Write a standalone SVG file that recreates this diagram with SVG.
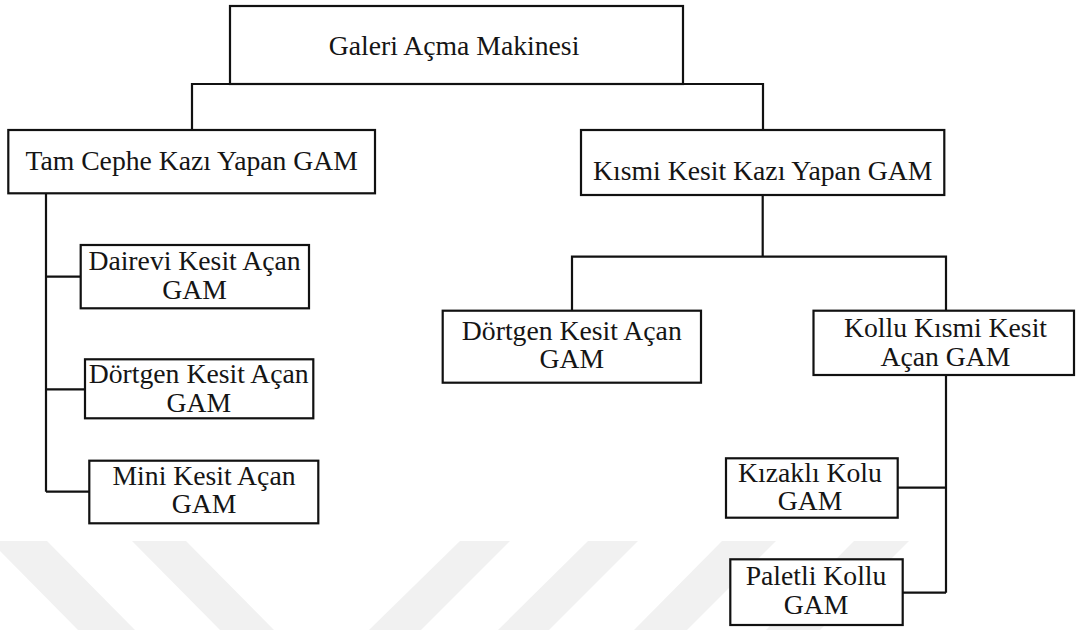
<svg xmlns="http://www.w3.org/2000/svg" width="1076" height="630" viewBox="0 0 1076 630">
<defs>
<style>
.box{fill:#fff;stroke:#111;stroke-width:2.2}
.lbl{font-size:27.7px;fill:#151515;text-anchor:middle}
.con{fill:none;stroke:#111;stroke-width:2.2}
.wm{fill:#f1f1f1}
</style>
</defs>
<rect width="1076" height="630" fill="#fff"/>
<g id="watermark">
<polygon class="wm" points="-10,541 47,541 135,630 78,630"/>
<polygon class="wm" points="132,541 186,541 274,630 220,630"/>
<polygon class="wm" points="460,541 510,541 421,630 369,630"/>
<polygon class="wm" points="588,541 638,541 549,630 498,630"/>
<polygon class="wm" points="722,541 776,541 687,630 634,630"/>
<polygon class="wm" points="854,541 909,541 820,630 766,630"/>
</g>
<g id="connectors">
<path class="con" d="M192,130 V84 H763 V130"/>
<path class="con" d="M46,193 V491.7 M46,276.7 H80.7 M46,389.3 H85 M46,491.7 H89.3"/>
<path class="con" d="M762.7,195 V256.7 M572,310.7 V256.7 H946 V310.7"/>
<path class="con" d="M946,375 V592.7 M897.7,487.7 H946 M902.7,592.7 H946"/>
</g>
<g id="nodes" font-family="Liberation Serif, serif">
<g id="n-root">
<rect class="box" x="230" y="6" width="453" height="78"/>
<text class="lbl" x="454" y="55" font-size="28.4">Galeri Açma Makinesi</text>
</g>
<g id="n-tam">
<rect class="box" x="8.3" y="130" width="366.7" height="63.3"/>
<text class="lbl" x="191.7" y="170">Tam Cephe Kazı Yapan GAM</text>
</g>
<g id="n-kismi">
<rect class="box" x="581" y="130" width="363.3" height="65"/>
<text class="lbl" x="762.7" y="180">Kısmi Kesit Kazı Yapan GAM</text>
</g>
<g id="n-dairevi">
<rect class="box" x="80.7" y="245" width="228.3" height="63.3"/>
<text class="lbl" x="194.5" y="270">Dairevi Kesit Açan</text>
<text class="lbl" x="194.5" y="299.3">GAM</text>
</g>
<g id="n-dortgen-l">
<rect class="box" x="85" y="359.3" width="228.3" height="59"/>
<text class="lbl" x="198.7" y="383.3">Dörtgen Kesit Açan</text>
<text class="lbl" x="198.7" y="411.7">GAM</text>
</g>
<g id="n-mini">
<rect class="box" x="89.3" y="460.7" width="229" height="62.6"/>
<text class="lbl" x="204" y="485">Mini Kesit Açan</text>
<text class="lbl" x="204" y="513.3">GAM</text>
</g>
<g id="n-dortgen-r">
<rect class="box" x="442.7" y="310.7" width="258.3" height="72"/>
<text class="lbl" x="571.8" y="340">Dörtgen Kesit Açan</text>
<text class="lbl" x="571.8" y="368.3">GAM</text>
</g>
<g id="n-kollu">
<rect class="box" x="813.5" y="310.7" width="260.5" height="64.3"/>
<text class="lbl" x="945.5" y="336.7">Kollu Kısmi Kesit</text>
<text class="lbl" x="945.5" y="365.7">Açan GAM</text>
</g>
<g id="n-kizakli">
<rect class="box" x="726" y="458.3" width="171.7" height="59.4"/>
<text class="lbl" x="810" y="481.7">Kızaklı Kolu</text>
<text class="lbl" x="810" y="510">GAM</text>
</g>
<g id="n-paletli">
<rect class="box" x="730.3" y="559.3" width="172.4" height="65.7"/>
<text class="lbl" x="816" y="585">Paletli Kollu</text>
<text class="lbl" x="816" y="614.3">GAM</text>
</g>
</g>
</svg>
